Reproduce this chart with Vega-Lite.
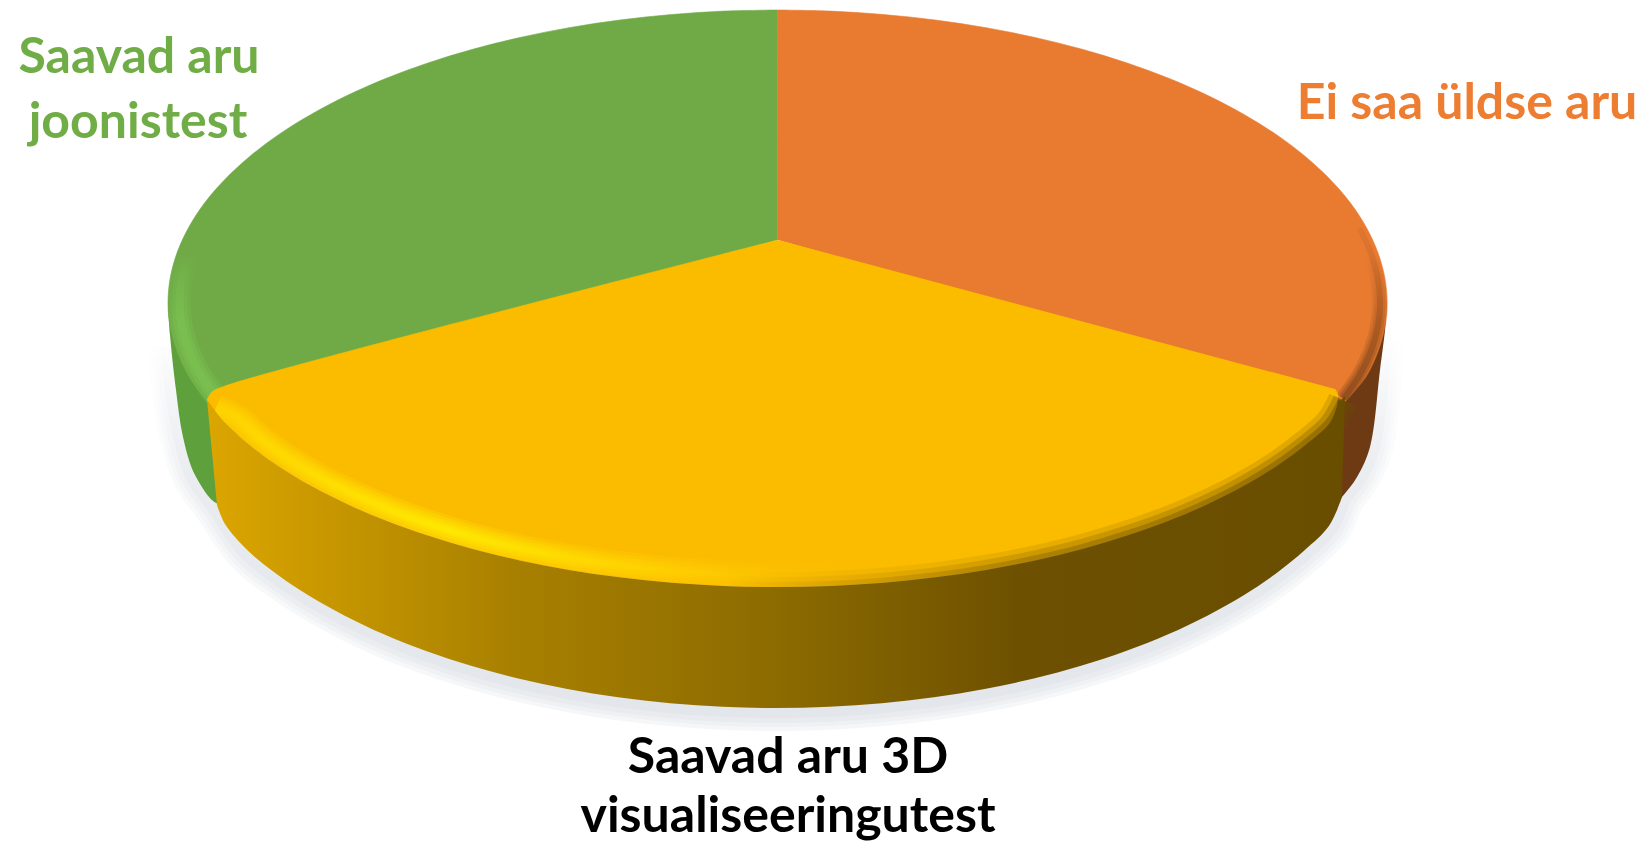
{"$schema":"https://vega.github.io/schema/vega-lite/v6.json","width":1647,"height":844,"padding":0,"autosize":{"type":"none"},"background":"white","view":{"stroke":null},
"datasets":{
"outline":[
{"piece":"edge","order":0,"x":170,"y":345},{"piece":"edge","order":1,"x":175,"y":390},{"piece":"edge","order":2,"x":183,"y":437},{"piece":"edge","order":3,"x":195,"y":475},{"piece":"edge","order":4,"x":216,"y":505},{"piece":"edge","order":5,"x":247.7,"y":550.5},{"piece":"edge","order":6,"x":276.3,"y":573.7},{"piece":"edge","order":7,"x":308.7,"y":595.5},{"piece":"edge","order":8,"x":344.7,"y":615.7},{"piece":"edge","order":9,"x":383.9,"y":634.3},{"piece":"edge","order":10,"x":426.1,"y":651},{"piece":"edge","order":11,"x":471,"y":665.8},{"piece":"edge","order":12,"x":518.2,"y":678.5},{"piece":"edge","order":13,"x":567.4,"y":689},{"piece":"edge","order":14,"x":618.1,"y":697.3},{"piece":"edge","order":15,"x":670.1,"y":703.2},{"piece":"edge","order":16,"x":722.8,"y":706.8},{"piece":"edge","order":17,"x":776,"y":708},{"piece":"edge","order":18,"x":829.2,"y":706.8},{"piece":"edge","order":19,"x":881.9,"y":703.2},{"piece":"edge","order":20,"x":933.9,"y":697.3},{"piece":"edge","order":21,"x":984.6,"y":689},{"piece":"edge","order":22,"x":1033.8,"y":678.5},{"piece":"edge","order":23,"x":1081,"y":665.8},{"piece":"edge","order":24,"x":1125.9,"y":651},{"piece":"edge","order":25,"x":1168.1,"y":634.3},{"piece":"edge","order":26,"x":1207.3,"y":615.7},{"piece":"edge","order":27,"x":1243.3,"y":595.5},{"piece":"edge","order":28,"x":1275.7,"y":573.7},{"piece":"edge","order":29,"x":1304.3,"y":550.5},{"piece":"edge","order":30,"x":1328.9,"y":526.1},{"piece":"edge","order":31,"x":1342,"y":497},{"piece":"edge","order":32,"x":1357,"y":477},{"piece":"edge","order":33,"x":1370,"y":447},{"piece":"edge","order":34,"x":1380,"y":370},{"piece":"edge","order":35,"x":1384,"y":335},

{"piece":"greenSide","order":1,"x":168,"y":303},{"piece":"greenSide","order":2,"x":170,"y":335},{"piece":"greenSide","order":3,"x":176,"y":390},{"piece":"greenSide","order":4,"x":183,"y":437},{"piece":"greenSide","order":5,"x":195,"y":475},{"piece":"greenSide","order":6,"x":216,"y":503},{"piece":"greenSide","order":7,"x":228,"y":503},{"piece":"greenSide","order":8,"x":240,"y":303},

{"piece":"orangeSide","order":1,"x":1387,"y":303},{"piece":"orangeSide","order":2,"x":1385,"y":330},{"piece":"orangeSide","order":3,"x":1380,"y":370},{"piece":"orangeSide","order":4,"x":1370,"y":447},{"piece":"orangeSide","order":5,"x":1357,"y":477},{"piece":"orangeSide","order":6,"x":1342,"y":497},{"piece":"orangeSide","order":7,"x":1320,"y":520},{"piece":"orangeSide","order":8,"x":1320,"y":303},

{"piece":"green","order":1,"x":778,"y":240},{"piece":"green","order":1.1,"x":778,"y":240},{"piece":"green","order":1.2,"x":778,"y":240},{"piece":"green","order":2,"x":777.5,"y":10},{"piece":"green","order":2.1,"x":777.5,"y":10},{"piece":"green","order":2.2,"x":777.5,"y":10},{"piece":"green","order":3,"x":724.4,"y":11.1},{"piece":"green","order":4,"x":671.7,"y":14.5},{"piece":"green","order":5,"x":619.8,"y":20},{"piece":"green","order":6,"x":569,"y":27.7},{"piece":"green","order":7,"x":519.9,"y":37.5},{"piece":"green","order":8,"x":472.7,"y":49.3},{"piece":"green","order":9,"x":427.9,"y":63},{"piece":"green","order":10,"x":385.7,"y":78.5},{"piece":"green","order":11,"x":346.5,"y":95.8},{"piece":"green","order":12,"x":310.6,"y":114.7},{"piece":"green","order":13,"x":278.2,"y":134.9},{"piece":"green","order":14,"x":249.7,"y":156.5},{"piece":"green","order":15,"x":225.1,"y":179.2},{"piece":"green","order":16,"x":204.7,"y":202.8},{"piece":"green","order":17,"x":188.8,"y":227.2},{"piece":"green","order":18,"x":177.3,"y":252.1},{"piece":"green","order":19,"x":170.3,"y":277.5},{"piece":"green","order":20,"x":168,"y":303},{"piece":"green","order":21,"x":170.3,"y":327.8},{"piece":"green","order":22,"x":177.3,"y":352.3},{"piece":"green","order":23,"x":188.8,"y":376.5},{"piece":"green","order":24,"x":207,"y":402},

{"piece":"orange","order":1,"x":778,"y":240},{"piece":"orange","order":1.1,"x":778,"y":240},{"piece":"orange","order":1.2,"x":778,"y":240},{"piece":"orange","order":2,"x":777.5,"y":10},{"piece":"orange","order":2.1,"x":777.5,"y":10},{"piece":"orange","order":2.2,"x":777.5,"y":10},{"piece":"orange","order":3,"x":830.6,"y":11.1},{"piece":"orange","order":4,"x":883.3,"y":14.5},{"piece":"orange","order":5,"x":935.2,"y":20},{"piece":"orange","order":6,"x":986,"y":27.7},{"piece":"orange","order":7,"x":1035.1,"y":37.5},{"piece":"orange","order":8,"x":1082.3,"y":49.3},{"piece":"orange","order":9,"x":1127.1,"y":63},{"piece":"orange","order":10,"x":1169.3,"y":78.5},{"piece":"orange","order":11,"x":1208.5,"y":95.8},{"piece":"orange","order":12,"x":1244.4,"y":114.7},{"piece":"orange","order":13,"x":1276.8,"y":134.9},{"piece":"orange","order":14,"x":1305.3,"y":156.5},{"piece":"orange","order":15,"x":1329.9,"y":179.2},{"piece":"orange","order":16,"x":1350.3,"y":202.8},{"piece":"orange","order":17,"x":1366.2,"y":227.2},{"piece":"orange","order":18,"x":1377.7,"y":252.1},{"piece":"orange","order":19,"x":1384.7,"y":277.5},{"piece":"orange","order":20,"x":1387,"y":303},{"piece":"orange","order":21,"x":1384.7,"y":327.8},{"piece":"orange","order":22,"x":1377.7,"y":352.3},{"piece":"orange","order":23,"x":1366.2,"y":376.5},{"piece":"orange","order":24,"x":1345,"y":402},

{"piece":"greenRim","order":1,"x":188.6,"y":254},{"piece":"greenRim","order":2,"x":181.8,"y":278.4},{"piece":"greenRim","order":3,"x":179.5,"y":303},{"piece":"greenRim","order":4,"x":181.8,"y":326.8},{"piece":"greenRim","order":5,"x":188.6,"y":350.4},{"piece":"greenRim","order":6,"x":199.9,"y":373.7},{"piece":"greenRim","order":7,"x":215.6,"y":396.4},

{"piece":"orangeRim","order":1,"x":1359.4,"y":228.2},{"piece":"orangeRim","order":2,"x":1370.8,"y":252.8},{"piece":"orangeRim","order":3,"x":1377.7,"y":277.8},{"piece":"orangeRim","order":4,"x":1380,"y":303},{"piece":"orangeRim","order":5,"x":1377.7,"y":327.4},{"piece":"orangeRim","order":6,"x":1370.8,"y":351.6},{"piece":"orangeRim","order":7,"x":1359.4,"y":375.5},{"piece":"orangeRim","order":8,"x":1343.5,"y":398.8},

{"piece":"yellow","order":1,"x":778,"y":240},{"piece":"yellow","order":1.1,"x":778,"y":240},{"piece":"yellow","order":1.2,"x":778,"y":240},{"piece":"yellow","order":2,"x":225,"y":386},{"piece":"yellow","order":3,"x":212,"y":392},{"piece":"yellow","order":4,"x":207,"y":400},{"piece":"yellow","order":4.1,"x":207,"y":400},{"piece":"yellow","order":4.2,"x":207,"y":400},{"piece":"yellow","order":5,"x":225.1,"y":423},{"piece":"yellow","order":6,"x":249.7,"y":445},{"piece":"yellow","order":7,"x":278.2,"y":465.9},{"piece":"yellow","order":8,"x":310.6,"y":485.6},{"piece":"yellow","order":9,"x":346.5,"y":503.8},{"piece":"yellow","order":10,"x":385.7,"y":520.6},{"piece":"yellow","order":11,"x":427.9,"y":535.6},{"piece":"yellow","order":12,"x":472.7,"y":549},{"piece":"yellow","order":13,"x":519.9,"y":560.4},{"piece":"yellow","order":14,"x":569,"y":569.9},{"piece":"yellow","order":15,"x":619.8,"y":577.3},{"piece":"yellow","order":16,"x":671.7,"y":582.7},{"piece":"yellow","order":17,"x":724.4,"y":585.9},{"piece":"yellow","order":18,"x":777.5,"y":587},{"piece":"yellow","order":19,"x":830.6,"y":585.9},{"piece":"yellow","order":20,"x":883.3,"y":582.7},{"piece":"yellow","order":21,"x":935.2,"y":577.3},{"piece":"yellow","order":22,"x":986,"y":569.9},{"piece":"yellow","order":23,"x":1035.1,"y":560.4},{"piece":"yellow","order":24,"x":1082.3,"y":549},{"piece":"yellow","order":25,"x":1127.1,"y":535.6},{"piece":"yellow","order":26,"x":1169.3,"y":520.6},{"piece":"yellow","order":27,"x":1208.5,"y":503.8},{"piece":"yellow","order":28,"x":1244.4,"y":485.6},{"piece":"yellow","order":29,"x":1276.8,"y":465.9},{"piece":"yellow","order":30,"x":1305.3,"y":445},{"piece":"yellow","order":31,"x":1329.9,"y":423},{"piece":"yellow","order":32,"x":1338,"y":396},{"piece":"yellow","order":33,"x":1335,"y":389},{"piece":"yellow","order":33.1,"x":1335,"y":389},{"piece":"yellow","order":33.2,"x":1335,"y":389},

{"piece":"yellowRim","order":1,"x":216,"y":408},{"piece":"yellowRim","order":2,"x":236.4,"y":418},{"piece":"yellowRim","order":3,"x":260.5,"y":439},{"piece":"yellowRim","order":4,"x":288.5,"y":459},{"piece":"yellowRim","order":5,"x":320.2,"y":477.8},{"piece":"yellowRim","order":6,"x":355.4,"y":495.3},{"piece":"yellowRim","order":7,"x":393.8,"y":511.4},{"piece":"yellowRim","order":8,"x":435.1,"y":525.8},{"piece":"yellowRim","order":9,"x":479,"y":538.6},{"piece":"yellowRim","order":10,"x":525.2,"y":549.5},{"piece":"yellowRim","order":11,"x":573.3,"y":558.6},{"piece":"yellowRim","order":12,"x":623,"y":565.7},{"piece":"yellowRim","order":13,"x":673.8,"y":570.9},{"piece":"yellowRim","order":14,"x":725.5,"y":574},{"piece":"yellowRim","order":15,"x":777.5,"y":575},{"piece":"yellowRim","order":16,"x":829.5,"y":574},{"piece":"yellowRim","order":17,"x":881.2,"y":570.9},

{"piece":"darkRim","order":1,"x":724.4,"y":585.9},{"piece":"darkRim","order":2,"x":777.5,"y":587},{"piece":"darkRim","order":3,"x":830.6,"y":585.9},{"piece":"darkRim","order":4,"x":883.3,"y":582.7},{"piece":"darkRim","order":5,"x":935.2,"y":577.3},{"piece":"darkRim","order":6,"x":986,"y":569.9},{"piece":"darkRim","order":7,"x":1035.1,"y":560.4},{"piece":"darkRim","order":8,"x":1082.3,"y":549},{"piece":"darkRim","order":9,"x":1127.1,"y":535.6},{"piece":"darkRim","order":10,"x":1169.3,"y":520.6},{"piece":"darkRim","order":11,"x":1208.5,"y":503.8},{"piece":"darkRim","order":12,"x":1244.4,"y":485.6},{"piece":"darkRim","order":13,"x":1276.8,"y":465.9},{"piece":"darkRim","order":14,"x":1305.3,"y":445},{"piece":"darkRim","order":15,"x":1329.9,"y":423},{"piece":"darkRim","order":16,"x":1343,"y":400},

{"piece":"yellowSide","order":1,"x":207,"y":400},{"piece":"yellowSide","order":1.1,"x":207,"y":400},{"piece":"yellowSide","order":1.2,"x":207,"y":400},{"piece":"yellowSide","order":2,"x":225.1,"y":423},{"piece":"yellowSide","order":3,"x":249.7,"y":445},{"piece":"yellowSide","order":4,"x":278.2,"y":465.9},{"piece":"yellowSide","order":5,"x":310.6,"y":485.6},{"piece":"yellowSide","order":6,"x":346.5,"y":503.8},{"piece":"yellowSide","order":7,"x":385.7,"y":520.6},{"piece":"yellowSide","order":8,"x":427.9,"y":535.6},{"piece":"yellowSide","order":9,"x":472.7,"y":549},{"piece":"yellowSide","order":10,"x":519.9,"y":560.4},{"piece":"yellowSide","order":11,"x":569,"y":569.9},{"piece":"yellowSide","order":12,"x":619.8,"y":577.3},{"piece":"yellowSide","order":13,"x":671.7,"y":582.7},{"piece":"yellowSide","order":14,"x":724.4,"y":585.9},{"piece":"yellowSide","order":15,"x":777.5,"y":587},{"piece":"yellowSide","order":16,"x":830.6,"y":585.9},{"piece":"yellowSide","order":17,"x":883.3,"y":582.7},{"piece":"yellowSide","order":18,"x":935.2,"y":577.3},{"piece":"yellowSide","order":19,"x":986,"y":569.9},{"piece":"yellowSide","order":20,"x":1035.1,"y":560.4},{"piece":"yellowSide","order":21,"x":1082.3,"y":549},{"piece":"yellowSide","order":22,"x":1127.1,"y":535.6},{"piece":"yellowSide","order":23,"x":1169.3,"y":520.6},{"piece":"yellowSide","order":24,"x":1208.5,"y":503.8},{"piece":"yellowSide","order":25,"x":1244.4,"y":485.6},{"piece":"yellowSide","order":26,"x":1276.8,"y":465.9},{"piece":"yellowSide","order":27,"x":1305.3,"y":445},{"piece":"yellowSide","order":28,"x":1329.9,"y":423},{"piece":"yellowSide","order":29,"x":1339,"y":403},{"piece":"yellowSide","order":29.5,"x":1345,"y":396},{"piece":"yellowSide","order":29.6,"x":1345,"y":396},{"piece":"yellowSide","order":29.7,"x":1345,"y":396},{"piece":"yellowSide","order":30,"x":1342,"y":497},{"piece":"yellowSide","order":30.1,"x":1342,"y":497},{"piece":"yellowSide","order":30.2,"x":1342,"y":497},{"piece":"yellowSide","order":31,"x":1328.9,"y":526.1},{"piece":"yellowSide","order":32,"x":1304.3,"y":550.5},{"piece":"yellowSide","order":33,"x":1275.7,"y":573.7},{"piece":"yellowSide","order":34,"x":1243.3,"y":595.5},{"piece":"yellowSide","order":35,"x":1207.3,"y":615.7},{"piece":"yellowSide","order":36,"x":1168.1,"y":634.3},{"piece":"yellowSide","order":37,"x":1125.9,"y":651},{"piece":"yellowSide","order":38,"x":1081,"y":665.8},{"piece":"yellowSide","order":39,"x":1033.8,"y":678.5},{"piece":"yellowSide","order":40,"x":984.6,"y":689},{"piece":"yellowSide","order":41,"x":933.9,"y":697.3},{"piece":"yellowSide","order":42,"x":881.9,"y":703.2},{"piece":"yellowSide","order":43,"x":829.2,"y":706.8},{"piece":"yellowSide","order":44,"x":776,"y":708},{"piece":"yellowSide","order":45,"x":722.8,"y":706.8},{"piece":"yellowSide","order":46,"x":670.1,"y":703.2},{"piece":"yellowSide","order":47,"x":618.1,"y":697.3},{"piece":"yellowSide","order":48,"x":567.4,"y":689},{"piece":"yellowSide","order":49,"x":518.2,"y":678.5},{"piece":"yellowSide","order":50,"x":471,"y":665.8},{"piece":"yellowSide","order":51,"x":426.1,"y":651},{"piece":"yellowSide","order":52,"x":383.9,"y":634.3},{"piece":"yellowSide","order":53,"x":344.7,"y":615.7},{"piece":"yellowSide","order":54,"x":308.7,"y":595.5},{"piece":"yellowSide","order":55,"x":276.3,"y":573.7},{"piece":"yellowSide","order":56,"x":247.7,"y":550.5},{"piece":"yellowSide","order":57,"x":225,"y":524},{"piece":"yellowSide","order":58,"x":217,"y":505},{"piece":"yellowSide","order":58.1,"x":217,"y":505},{"piece":"yellowSide","order":58.2,"x":217,"y":505}
],
"labels":[
{"label":"Saavad aru","group":"green","x":139,"y":73},
{"label":"joonistest","group":"green","x":138,"y":138},
{"label":"Ei saa üldse aru","group":"orange","x":1467,"y":119},
{"label":"Saavad aru 3D","group":"black","x":788,"y":773},
{"label":"visualiseeringutest","group":"black","x":788,"y":832}
]},
"encoding":{
"x":{"field":"x","type":"quantitative","scale":{"domain":[0,1647],"nice":false,"zero":false},"axis":null},
"y":{"field":"y","type":"quantitative","scale":{"domain":[844,0],"nice":false,"zero":false},"axis":null}},
"layer":[
{"data":{"name":"outline"},"transform":[{"filter":"datum.piece=='edge'"}],"mark":{"type":"line","interpolate":"catmull-rom","strokeWidth":46,"opacity":0.3,"strokeCap":"butt","stroke":{"gradient":"linear","x1":0,"y1":0,"x2":0,"y2":1,"stops":[{"offset":0,"color":"rgba(223,227,232,0)"},{"offset":0.4,"color":"rgba(223,227,232,0.6)"},{"offset":1,"color":"rgba(223,227,232,1)"}]}},"encoding":{"order":{"field":"order"}}},
{"data":{"name":"outline"},"transform":[{"filter":"datum.piece=='edge'"}],"mark":{"type":"line","interpolate":"catmull-rom","strokeWidth":38,"opacity":0.3,"strokeCap":"butt","stroke":{"gradient":"linear","x1":0,"y1":0,"x2":0,"y2":1,"stops":[{"offset":0,"color":"rgba(223,227,232,0)"},{"offset":0.4,"color":"rgba(223,227,232,0.6)"},{"offset":1,"color":"rgba(223,227,232,1)"}]}},"encoding":{"order":{"field":"order"}}},
{"data":{"name":"outline"},"transform":[{"filter":"datum.piece=='edge'"}],"mark":{"type":"line","interpolate":"catmull-rom","strokeWidth":30,"opacity":0.4,"strokeCap":"butt","stroke":{"gradient":"linear","x1":0,"y1":0,"x2":0,"y2":1,"stops":[{"offset":0,"color":"rgba(223,227,232,0)"},{"offset":0.4,"color":"rgba(223,227,232,0.6)"},{"offset":1,"color":"rgba(223,227,232,1)"}]}},"encoding":{"order":{"field":"order"}}},
{"data":{"name":"outline"},"transform":[{"filter":"datum.piece=='edge'"}],"mark":{"type":"line","interpolate":"catmull-rom","strokeWidth":20,"opacity":0.6,"strokeCap":"butt","stroke":{"gradient":"linear","x1":0,"y1":0,"x2":0,"y2":1,"stops":[{"offset":0,"color":"rgba(223,227,232,0)"},{"offset":0.4,"color":"rgba(223,227,232,0.6)"},{"offset":1,"color":"rgba(223,227,232,1)"}]}},"encoding":{"order":{"field":"order"}}},
{"data":{"name":"outline"},"transform":[{"filter":"datum.piece=='greenSide'"}],"mark":{"type":"line","interpolate":"catmull-rom","fill":"#5DA03C","stroke":"transparent","strokeWidth":0},"encoding":{"order":{"field":"order"}}},
{"data":{"name":"outline"},"transform":[{"filter":"datum.piece=='orangeSide'"}],"mark":{"type":"line","interpolate":"catmull-rom","fill":"#6E3A14","stroke":"transparent","strokeWidth":0},"encoding":{"order":{"field":"order"}}},
{"data":{"name":"outline"},"transform":[{"filter":"datum.piece=='green'"}],"mark":{"type":"line","interpolate":"catmull-rom","fill":"#6FAA46","stroke":"#6FAA46","strokeWidth":0.6,"strokeJoin":"round"},"encoding":{"order":{"field":"order"}}},
{"data":{"name":"outline"},"transform":[{"filter":"datum.piece=='orange'"}],"mark":{"type":"line","interpolate":"catmull-rom","fill":"#E97B30","stroke":"#E97B30","strokeWidth":0.6,"strokeJoin":"round"},"encoding":{"order":{"field":"order"}}},
{"data":{"name":"outline"},"transform":[{"filter":"datum.piece=='greenRim'"}],"mark":{"type":"line","interpolate":"catmull-rom","strokeWidth":22,"opacity":0.3,"strokeCap":"butt","stroke":{"gradient":"linear","x1":0,"y1":0,"x2":0,"y2":1,"stops":[{"offset":0,"color":"rgba(124,197,82,0)"},{"offset":0.5,"color":"#7CC552"},{"offset":1,"color":"#7CC552"}]}},"encoding":{"order":{"field":"order"}}},
{"data":{"name":"outline"},"transform":[{"filter":"datum.piece=='greenRim'"}],"mark":{"type":"line","interpolate":"catmull-rom","strokeWidth":15,"opacity":0.35,"strokeCap":"butt","stroke":{"gradient":"linear","x1":0,"y1":0,"x2":0,"y2":1,"stops":[{"offset":0,"color":"rgba(124,197,82,0)"},{"offset":0.5,"color":"#7CC552"},{"offset":1,"color":"#7CC552"}]}},"encoding":{"order":{"field":"order"}}},
{"data":{"name":"outline"},"transform":[{"filter":"datum.piece=='greenRim'"}],"mark":{"type":"line","interpolate":"catmull-rom","strokeWidth":8,"opacity":0.45,"strokeCap":"butt","stroke":{"gradient":"linear","x1":0,"y1":0,"x2":0,"y2":1,"stops":[{"offset":0,"color":"rgba(124,197,82,0)"},{"offset":0.5,"color":"#7CC552"},{"offset":1,"color":"#7CC552"}]}},"encoding":{"order":{"field":"order"}}},
{"data":{"name":"outline"},"transform":[{"filter":"datum.piece=='orangeRim'"}],"mark":{"type":"line","interpolate":"catmull-rom","strokeWidth":16,"opacity":0.25,"strokeCap":"butt","stroke":{"gradient":"linear","x1":0,"y1":0,"x2":0,"y2":1,"stops":[{"offset":0.15,"color":"rgba(110,58,20,0)"},{"offset":0.55,"color":"rgba(110,58,20,0.6)"},{"offset":1,"color":"#6E3A14"}]}},"encoding":{"order":{"field":"order"}}},
{"data":{"name":"outline"},"transform":[{"filter":"datum.piece=='orangeRim'"}],"mark":{"type":"line","interpolate":"catmull-rom","strokeWidth":11,"opacity":0.3,"strokeCap":"butt","stroke":{"gradient":"linear","x1":0,"y1":0,"x2":0,"y2":1,"stops":[{"offset":0.15,"color":"rgba(110,58,20,0)"},{"offset":0.55,"color":"rgba(110,58,20,0.6)"},{"offset":1,"color":"#6E3A14"}]}},"encoding":{"order":{"field":"order"}}},
{"data":{"name":"outline"},"transform":[{"filter":"datum.piece=='orangeRim'"}],"mark":{"type":"line","interpolate":"catmull-rom","strokeWidth":6,"opacity":0.4,"strokeCap":"butt","stroke":{"gradient":"linear","x1":0,"y1":0,"x2":0,"y2":1,"stops":[{"offset":0,"color":"rgba(110,58,20,0.2)"},{"offset":0.55,"color":"rgba(110,58,20,0.7)"},{"offset":1,"color":"#6E3A14"}]}},"encoding":{"order":{"field":"order"}}},
{"data":{"name":"outline"},"transform":[{"filter":"datum.piece=='yellow'"}],"mark":{"type":"line","interpolate":"catmull-rom","fill":"#FBBC00","stroke":"#FBBC00","strokeWidth":0.6,"strokeJoin":"round"},"encoding":{"order":{"field":"order"}}},
{"data":{"name":"outline"},"transform":[{"filter":"datum.piece=='yellowRim'"}],"mark":{"type":"line","interpolate":"catmull-rom","strokeWidth":28,"opacity":0.2,"strokeCap":"butt","stroke":{"gradient":"linear","x1":0,"y1":0,"x2":1,"y2":0,"stops":[{"offset":0,"color":"#FFD800"},{"offset":0.35,"color":"#FFF000"},{"offset":0.7,"color":"#FFD000"},{"offset":1,"color":"rgba(251,188,0,0)"}]}},"encoding":{"order":{"field":"order"}}},
{"data":{"name":"outline"},"transform":[{"filter":"datum.piece=='yellowRim'"}],"mark":{"type":"line","interpolate":"catmull-rom","strokeWidth":22,"opacity":0.25,"strokeCap":"butt","stroke":{"gradient":"linear","x1":0,"y1":0,"x2":1,"y2":0,"stops":[{"offset":0,"color":"#FFD800"},{"offset":0.35,"color":"#FFF000"},{"offset":0.7,"color":"#FFD000"},{"offset":1,"color":"rgba(251,188,0,0)"}]}},"encoding":{"order":{"field":"order"}}},
{"data":{"name":"outline"},"transform":[{"filter":"datum.piece=='yellowRim'"}],"mark":{"type":"line","interpolate":"catmull-rom","strokeWidth":16,"opacity":0.3,"strokeCap":"butt","stroke":{"gradient":"linear","x1":0,"y1":0,"x2":1,"y2":0,"stops":[{"offset":0,"color":"#FFD800"},{"offset":0.35,"color":"#FFF000"},{"offset":0.7,"color":"#FFD000"},{"offset":1,"color":"rgba(251,188,0,0)"}]}},"encoding":{"order":{"field":"order"}}},
{"data":{"name":"outline"},"transform":[{"filter":"datum.piece=='yellowRim'"}],"mark":{"type":"line","interpolate":"catmull-rom","strokeWidth":10,"opacity":0.35,"strokeCap":"butt","stroke":{"gradient":"linear","x1":0,"y1":0,"x2":1,"y2":0,"stops":[{"offset":0,"color":"#FFD800"},{"offset":0.35,"color":"#FFF000"},{"offset":0.7,"color":"#FFD000"},{"offset":1,"color":"rgba(251,188,0,0)"}]}},"encoding":{"order":{"field":"order"}}},
{"data":{"name":"outline"},"transform":[{"filter":"datum.piece=='yellowRim'"}],"mark":{"type":"line","interpolate":"catmull-rom","strokeWidth":5,"opacity":0.4,"strokeCap":"butt","stroke":{"gradient":"linear","x1":0,"y1":0,"x2":1,"y2":0,"stops":[{"offset":0,"color":"#FFD800"},{"offset":0.35,"color":"#FFF000"},{"offset":0.7,"color":"#FFD000"},{"offset":1,"color":"rgba(251,188,0,0)"}]}},"encoding":{"order":{"field":"order"}}},
{"data":{"name":"outline"},"transform":[{"filter":"datum.piece=='darkRim'"}],"mark":{"type":"line","interpolate":"catmull-rom","strokeWidth":30,"opacity":0.2,"strokeCap":"butt","stroke":{"gradient":"linear","x1":0,"y1":0,"x2":1,"y2":0,"stops":[{"offset":0,"color":"rgba(106,78,0,0)"},{"offset":0.5,"color":"rgba(106,78,0,0.7)"},{"offset":1,"color":"#6A4E00"}]}},"encoding":{"order":{"field":"order"}}},
{"data":{"name":"outline"},"transform":[{"filter":"datum.piece=='darkRim'"}],"mark":{"type":"line","interpolate":"catmull-rom","strokeWidth":20,"opacity":0.3,"strokeCap":"butt","stroke":{"gradient":"linear","x1":0,"y1":0,"x2":1,"y2":0,"stops":[{"offset":0,"color":"rgba(106,78,0,0)"},{"offset":0.5,"color":"rgba(106,78,0,0.7)"},{"offset":1,"color":"#6A4E00"}]}},"encoding":{"order":{"field":"order"}}},
{"data":{"name":"outline"},"transform":[{"filter":"datum.piece=='darkRim'"}],"mark":{"type":"line","interpolate":"catmull-rom","strokeWidth":10,"opacity":0.45,"strokeCap":"butt","stroke":{"gradient":"linear","x1":0,"y1":0,"x2":1,"y2":0,"stops":[{"offset":0,"color":"rgba(106,78,0,0)"},{"offset":0.5,"color":"rgba(106,78,0,0.7)"},{"offset":1,"color":"#6A4E00"}]}},"encoding":{"order":{"field":"order"}}},
{"data":{"name":"outline"},"transform":[{"filter":"datum.piece=='yellowSide'"}],"mark":{"type":"line","interpolate":"catmull-rom","stroke":"transparent","strokeWidth":0,"fill":{"gradient":"linear","x1":0,"y1":0,"x2":1,"y2":0,"stops":[{"offset":0,"color":"#DCA600"},{"offset":0.1,"color":"#C99800"},{"offset":0.27,"color":"#A88000"},{"offset":0.5,"color":"#8C6B00"},{"offset":0.72,"color":"#6D5000"},{"offset":1,"color":"#6A4E00"}]}},"encoding":{"order":{"field":"order"}}},
{"data":{"name":"labels"},"mark":{"type":"text","font":"Lato","fontWeight":"bold","fontSize":50,"align":"center","baseline":"alphabetic"},"encoding":{"text":{"field":"label"},"color":{"field":"group","type":"nominal","legend":null,"scale":{"domain":["green","orange","black"],"range":["#70AD47","#ED7D31","#000000"]}}}}
]}
